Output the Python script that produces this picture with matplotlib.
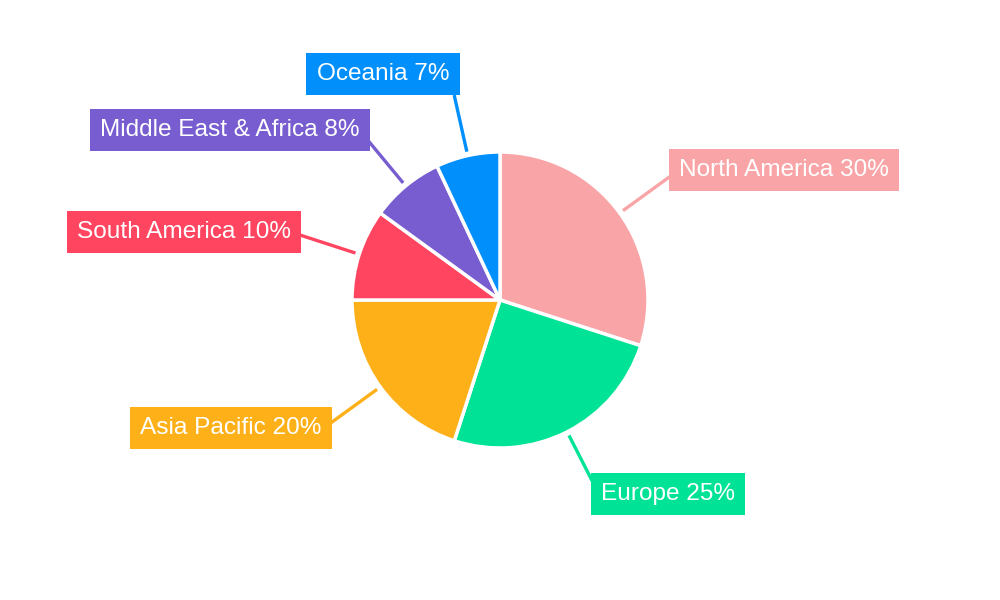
import matplotlib.pyplot as plt
import numpy as np

plt.rcParams['font.family'] = ['Liberation Sans', 'DejaVu Sans']

# data
regions = ['North America', 'Europe', 'Asia Pacific', 'South America',
           'Middle East & Africa', 'Oceania']
shares = [30, 25, 20, 10, 8, 7]
colors = ['#F9A5A8', '#00E396', '#FEB019', '#FF4560', '#775DD0', '#008FFB']

# label box centres in pixel coords (x, y from top)
label_pos = [(784, 170), (668, 494), (231, 428), (184, 232), (230, 130), (383, 74)]

fig = plt.figure(figsize=(10, 6), dpi=100)
ax = fig.add_axes([0, 0, 1, 1])

cx, cy, r = 500, 300, 148
wedges, _ = ax.pie(shares, colors=colors, startangle=90, counterclock=False,
                   center=(cx, cy), radius=r, frame=True,
                   wedgeprops=dict(edgecolor='white', linewidth=2.5))
ax.set_xlim(0, 1000)
ax.set_ylim(0, 600)
ax.set_aspect('equal')
ax.axis('off')

# radial leader lines from just outside the pie to the label boxes
r0, r1 = r + 4, 210
for w, name, val, col, (lx, ly) in zip(wedges, regions, shares, colors, label_pos):
    mid = np.deg2rad((w.theta1 + w.theta2) / 2)
    ax.plot([cx + r0 * np.cos(mid), cx + r1 * np.cos(mid)],
            [cy + r0 * np.sin(mid), cy + r1 * np.sin(mid)],
            color=col, lw=2.4, zorder=1, solid_capstyle='butt')
    ax.text(lx, 600 - ly, f'{name} {val}%', ha='center', va='center',
            fontsize=17.6, color='white', zorder=5,
            bbox=dict(boxstyle='square,pad=0.42', fc=col, ec='none'))

fig.savefig('out.png', dpi=100)
